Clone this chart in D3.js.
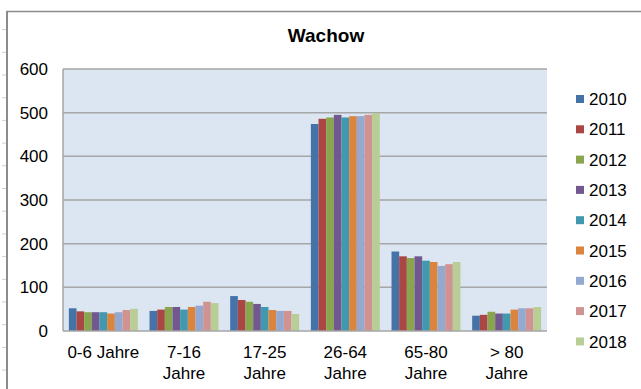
<!DOCTYPE html>
<html>
<head>
<meta charset="utf-8">
<script src="https://cdn.jsdelivr.net/npm/d3@7"></script>
<style>
  html, body { margin: 0; padding: 0; background: #fff; }
  svg { display: block; font-family: "Liberation Sans", Arial, sans-serif; }
</style>
</head>
<body>
<svg id="chart" width="641" height="389"></svg>
<script>
// Age groups (line breaks with "\n")
const categories = ["0-6 Jahre", "7-16\nJahre", "17-25\nJahre", "26-64\nJahre", "65-80\nJahre", "> 80\nJahre"];
const years = ["2010", "2011", "2012", "2013", "2014", "2015", "2016", "2017", "2018"];

// Residents per age group, one array per year
const v2010 = [52, 46, 80, 474, 182, 35];
const v2011 = [45, 49, 71, 486, 171, 37];
const v2012 = [43, 55, 67, 489, 167, 44];
const v2013 = [43, 55, 62, 495, 171, 40];
const v2014 = [43, 49, 55, 489, 161, 40];
const v2015 = [40, 55, 48, 492, 158, 49];
const v2016 = [43, 58, 46, 492, 149, 52];
const v2017 = [48, 67, 46, 495, 153, 52];
const v2018 = [51, 64, 39, 499, 158, 55];
const seriesValues = [v2010, v2011, v2012, v2013, v2014, v2015, v2016, v2017, v2018];

const yTicks = [0, 100, 200, 300, 400, 500, 600];
const colors = ["#4572A7", "#AA4643", "#89A54E", "#71588F", "#4198AF", "#DB843D", "#93A9CF", "#D19392", "#B9CD96"];

const svg = d3.select("#chart");

// sheet row/column markers behind the frame
svg.append("g").selectAll("line").data(d3.range(0, 16)).join("line")
  .attr("x1", 2).attr("x2", 6).attr("y1", k => 29.6 + k * 22.7).attr("y2", k => 29.6 + k * 22.7)
  .attr("stroke", "#d0d0d0").attr("stroke-width", 1);

// outer frame
svg.append("line").attr("x1", 7).attr("x2", 7).attr("y1", 11).attr("y2", 389)
  .attr("stroke", "#8c8c8c").attr("stroke-width", 2);
svg.append("line").attr("x1", 6).attr("x2", 641).attr("y1", 11.5).attr("y2", 11.5)
  .attr("stroke", "#8c8c8c").attr("stroke-width", 1.5);

const plot = { left: 63, right: 547, top: 69, bottom: 331 };

const x0 = d3.scaleBand().domain(categories).range([plot.left, plot.right]).paddingInner(0.145).paddingOuter(0.0725);
const x1 = d3.scaleBand().domain(years).range([0, x0.bandwidth()]);
const y = d3.scaleLinear().domain([0, 600]).range([plot.bottom, plot.top]);

// plot background
svg.append("rect").attr("x", plot.left).attr("y", plot.top)
  .attr("width", plot.right - plot.left).attr("height", plot.bottom - plot.top)
  .attr("fill", "#dce6f2");

// gridlines
svg.append("g").selectAll("line").data(yTicks.filter(t => t > 0)).join("line")
  .attr("x1", plot.left).attr("x2", plot.right)
  .attr("y1", d => y(d)).attr("y2", d => y(d))
  .attr("stroke", "#a6a6a6").attr("stroke-width", 1.5);

// bars
const groups = svg.append("g").selectAll("g").data(categories).join("g")
  .attr("transform", c => `translate(${x0(c)},0)`);
groups.selectAll("rect").data((c, ci) => years.map((yr, si) => ({ yr, si, v: seriesValues[si][ci] })))
  .join("rect")
  .attr("x", d => x1(d.yr))
  .attr("y", d => y(d.v))
  .attr("width", x1.bandwidth())
  .attr("height", d => y(0) - y(d.v))
  .attr("fill", d => colors[d.si]);

// axes lines
svg.append("line").attr("x1", plot.left).attr("x2", plot.left).attr("y1", plot.top).attr("y2", plot.bottom)
  .attr("stroke", "#a6a6a6").attr("stroke-width", 1.5);
svg.append("line").attr("x1", plot.left).attr("x2", plot.right).attr("y1", plot.bottom).attr("y2", plot.bottom)
  .attr("stroke", "#a6a6a6").attr("stroke-width", 1.5);

// y tick labels
svg.append("g").selectAll("text").data(yTicks).join("text")
  .attr("x", 48).attr("y", d => y(d)).attr("dy", "0.36em")
  .attr("text-anchor", "end").attr("font-size", 17).attr("fill", "#000")
  .text(d => d);

// x category labels
const xl = svg.append("g").selectAll("text").data(categories).join("text")
  .attr("x", c => x0(c) + x0.bandwidth() / 2)
  .attr("y", 358)
  .attr("text-anchor", "middle").attr("font-size", 17).attr("fill", "#000");
xl.selectAll("tspan").data(c => c.split("\n")).join("tspan")
  .attr("x", function () { return d3.select(this.parentNode).attr("x"); })
  .attr("dy", (d, i) => i === 0 ? 0 : 21)
  .text(d => d);

// title
svg.append("text").attr("x", 326).attr("y", 42).attr("text-anchor", "middle")
  .attr("font-size", 19).attr("font-weight", "bold").text("Wachow");

// legend
const legend = svg.append("g").selectAll("g").data(years).join("g")
  .attr("transform", (d, i) => `translate(576,${99 + i * 30.3})`);
legend.append("rect").attr("x", 0).attr("y", -4).attr("width", 8).attr("height", 8)
  .attr("fill", (d, i) => colors[i]);
legend.append("text").attr("x", 13).attr("y", 0).attr("dy", "0.36em")
  .attr("font-size", 17).text(d => d);
</script>
</body>
</html>
